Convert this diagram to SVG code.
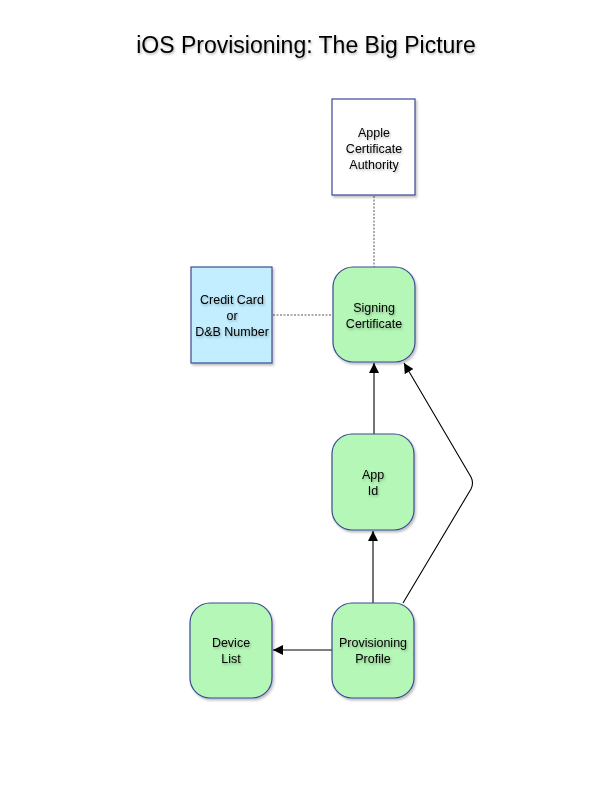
<svg xmlns="http://www.w3.org/2000/svg" width="612" height="792" viewBox="0 0 612 792">
<style>
text{font-family:"Liberation Sans",Arial,Helvetica,sans-serif;fill:#000;text-anchor:middle}
.t{font-size:12.5px;filter:url(#ts)}
.title{font-size:23px;filter:url(#ts)}
.g{fill:#b5f7b7;stroke:#3b4a93;stroke-width:1.2}
.b{fill:#c2eeff;stroke:#3b4a93;stroke-width:1.2}
.w{fill:#fff;stroke:#3b4a93;stroke-width:1.2}
.dot{stroke:#444;stroke-width:0.9;stroke-dasharray:2,1.5;fill:none}
.arr{stroke:#000;stroke-width:1.1;fill:none;marker-end:url(#ah)}
</style>
<defs>
<filter id="ts" x="-10%" y="-30%" width="120%" height="160%">
<feDropShadow dx="1" dy="1.5" stdDeviation="1" flood-color="#000" flood-opacity="0.3"/>
</filter>
<filter id="bs" x="-10%" y="-10%" width="125%" height="125%">
<feDropShadow dx="1.5" dy="2" stdDeviation="1.2" flood-color="#000" flood-opacity="0.25"/>
</filter>
<marker id="ah" viewBox="0 0 10 10" refX="10" refY="5" markerWidth="10" markerHeight="10" markerUnits="userSpaceOnUse" orient="auto">
<path d="M0,0 L10,5 L0,10 z" fill="#000"/>
</marker>
</defs>
<rect width="612" height="792" fill="#fff"/>
<text class="title" x="306" y="53">iOS Provisioning: The Big Picture</text>
<g id="connectors">
<line class="dot" x1="374" y1="196" x2="374" y2="267"/>
<line class="dot" x1="273" y1="315" x2="332" y2="315"/>
<line class="arr" x1="374" y1="434" x2="374" y2="363"/>
<line class="arr" x1="373" y1="603" x2="373" y2="531"/>
<line class="arr" x1="332" y1="650" x2="273" y2="650"/>
<path class="arr" d="M403,603 L471,489 Q474,483 471,477 L404,363"/>
</g>
<g id="apple-ca">
<rect class="w" x="332" y="99" width="83" height="96" filter="url(#bs)"/>
<text class="t" x="374" y="137">Apple</text>
<text class="t" x="374" y="153">Certificate</text>
<text class="t" x="374" y="169">Authority</text>
</g>
<g id="credit-card">
<rect class="b" x="191" y="267" width="81" height="96" filter="url(#bs)"/>
<text class="t" x="232" y="304">Credit Card</text>
<text class="t" x="232" y="320">or</text>
<text class="t" x="232" y="336">D&amp;B Number</text>
</g>
<g id="signing-cert">
<rect class="g" x="333" y="267" width="82" height="95" rx="20" filter="url(#bs)"/>
<text class="t" x="374" y="312">Signing</text>
<text class="t" x="374" y="328">Certificate</text>
</g>
<g id="app-id">
<rect class="g" x="332" y="434" width="82" height="96" rx="20" filter="url(#bs)"/>
<text class="t" x="373" y="479">App</text>
<text class="t" x="373" y="495">Id</text>
</g>
<g id="provisioning-profile">
<rect class="g" x="332" y="603" width="82" height="95" rx="20" filter="url(#bs)"/>
<text class="t" x="373" y="647">Provisioning</text>
<text class="t" x="373" y="663">Profile</text>
</g>
<g id="device-list">
<rect class="g" x="190" y="603" width="82" height="95" rx="20" filter="url(#bs)"/>
<text class="t" x="231" y="647">Device</text>
<text class="t" x="231" y="663">List</text>
</g>
</svg>
